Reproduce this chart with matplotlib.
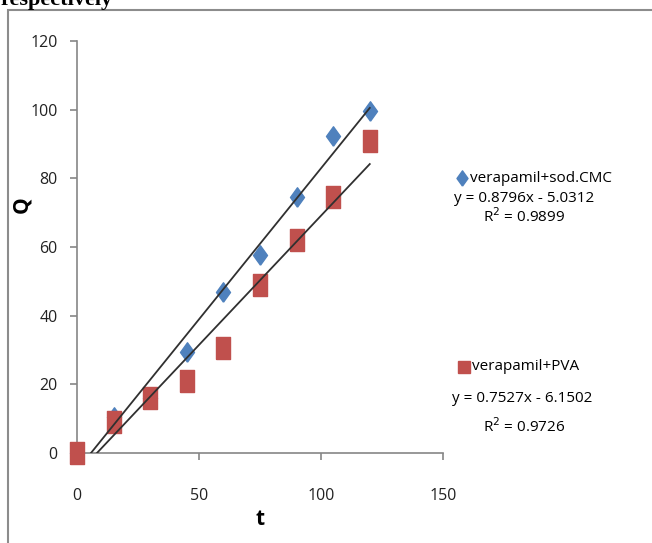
import numpy as np
from matplotlib import pyplot as plt
from matplotlib.patches import Rectangle

# data
t = [0, 15, 30, 45, 60, 75, 90, 105, 120]
q_cmc = [0, 10.5, 16, 29.5, 47, 57.7, 74.7, 92.4, 99.5]
q_pva = [0, 9, 16, 21, 30.5, 49, 62, 74.5, 91]

# trendline coefficients printed on the chart
fit_cmc = (0.8796, -5.0312, 0.9899)
fit_pva = (0.7527, -6.1502, 0.9726)

label_cmc = 'verapamil+sod.CMC'
label_pva = 'verapamil+PVA'

xticks = [0, 50, 100, 150]
yticks = [0, 20, 40, 60, 80, 100, 120]

blue = '#4F81BD'
red = '#C0504D'
grey = '#868686'

plt.rcParams['font.family'] = ['Open Sans', 'DejaVu Sans']

fig = plt.figure(figsize=(6.52, 5.43), dpi=100)
ax = fig.add_axes([0.1181, 0.1657, 0.5613, 0.7587])

rect_marker = [(-0.3, -0.5), (0.3, -0.5), (0.3, 0.5), (-0.3, 0.5), (-0.3, -0.5)]
diam_marker = [(0, -0.5), (0.36, 0), (0, 0.5), (-0.36, 0), (0, -0.5)]

ax.plot(t, q_cmc, linestyle='none', marker=diam_marker, ms=14, color=blue,
        clip_on=False, zorder=3)
ax.plot(t, q_pva, linestyle='none', marker=rect_marker, ms=16, color=red,
        clip_on=False, zorder=3)

# trendlines from the x intercept to the last point
for slope, icept, r2 in (fit_cmc, fit_pva):
    x0 = -icept / slope
    xs = np.array([x0, t[-1]])
    ax.plot(xs, slope * xs + icept, color='#303030', lw=1.3, zorder=4)

ax.set_xlim(0, 150)
ax.set_ylim(0, 120)
ax.set_xticks(xticks)
ax.set_yticks(yticks)
for s in ['top', 'right']:
    ax.spines[s].set_visible(False)
for s in ['left', 'bottom']:
    ax.spines[s].set_color(grey)
    ax.spines[s].set_linewidth(1.2)
ax.tick_params(axis='both', colors=grey, length=5, width=1.2, labelsize=11.5,
               labelcolor='#222222')
ax.tick_params(axis='x', pad=20)
ax.tick_params(axis='y', pad=9)

ax.set_xlabel('t', fontsize=15, fontweight='bold', labelpad=4)
fig.text(22 / 652, 1 - 205 / 543, 'Q', rotation=90, fontsize=15,
         fontweight='bold', ha='center', va='center')

# legend entries with equations
def px(x, y):
    return x / 652, 1 - y / 543

fig.lines.append(plt.Line2D([px(462, 0)[0]], [px(0, 178)[1]], marker=diam_marker,
                            ms=11, color=blue, transform=fig.transFigure))
fig.text(*px(470, 178), label_cmc, fontsize=11, va='center', ha='left')
fig.text(*px(524, 198), 'y = %.4fx - %.4f' % (fit_cmc[0], -fit_cmc[1]),
         fontsize=11, va='center', ha='center')
fig.text(*px(524, 217), 'R$^2$ = %.4f' % fit_cmc[2],
         fontsize=11, va='center', ha='center')

fig.lines.append(plt.Line2D([px(464, 0)[0]], [px(0, 367)[1]], marker='s',
                            ms=9, color=red, transform=fig.transFigure))
fig.text(*px(472, 367), label_pva, fontsize=11, va='center', ha='left')
fig.text(*px(522, 398), 'y = %.4fx - %.4f' % (fit_pva[0], -fit_pva[1]),
         fontsize=11, va='center', ha='center')
fig.text(*px(524, 427), 'R$^2$ = %.4f' % fit_pva[2],
         fontsize=11, va='center', ha='center')

# outer frame and caption text above it
fig.patches.append(Rectangle(px(8, 560), 700 / 652, 550 / 543, fill=False,
                             edgecolor='#8c8c8c', lw=1.5,
                             transform=fig.transFigure))
fig.text(*px(0, 5), 'respectively', fontsize=16, fontweight='bold',
         family='Liberation Serif', va='baseline', ha='left')

fig.savefig('out.png', dpi=100)
